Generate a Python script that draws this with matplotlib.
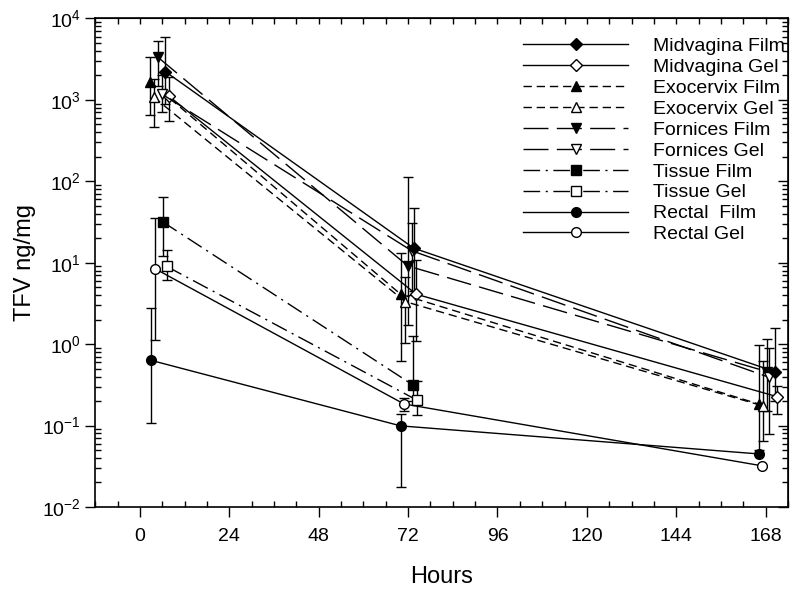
import matplotlib
matplotlib.use("Agg")
import matplotlib.pyplot as plt
from matplotlib.ticker import MultipleLocator, LogLocator, NullFormatter
import numpy as np

plt.rcParams['font.family'] = ['Liberation Sans', 'DejaVu Sans']
plt.rcParams['mathtext.fontset'] = 'custom'
plt.rcParams['mathtext.rm'] = 'Liberation Sans'
plt.rcParams['mathtext.it'] = 'Liberation Sans'
plt.rcParams['axes.unicode_minus'] = False

# ---- data (hours as plotted, TFV ng/mg, lower / upper error-bar ends) ----
mvf_x = [6.8, 73.5, 170.4]
mvf_y = [2230, 15.1, 0.46]
mvf_lo = [900, 4.5, 0.2]
mvf_hi = [5870, 46.7, 1.57]

mvg_x = [7.9, 74.2, 171.1]
mvg_y = [1100, 4.1, 0.226]
mvg_lo = [552, 1.09, 0.14]
mvg_hi = [1900, 10.8, 0.306]

exf_x = [2.7, 70.0, 166.1]
exf_y = [1680, 4.1, 0.184]
exf_lo = [655, 0.62, 0.05]
exf_hi = [3350, 13.3, 0.98]

exg_x = [3.7, 71.2, 167.3]
exg_y = [1080, 3.33, 0.174]
exg_lo = [462, 1.04, 0.065]
exg_hi = [1800, 6.75, 0.62]

fof_x = [4.8, 71.9, 168.3]
fof_y = [3350, 9.14, 0.46]
fof_lo = [1500, 1.72, 0.15]
fof_hi = [5350, 114, 1.15]

fog_x = [5.8, 73.0, 169.0]
fog_y = [1185, 14.0, 0.39]
fog_lo = [700, 4.0, 0.079]
fog_hi = [2000, 31.0, 0.906]

tif_x = [6.1, 73.3]
tif_y = [31.8, 0.315]
tif_lo = [12.0, 0.2]
tif_hi = [64.5, 1.25]

tig_x = [7.2, 74.3]
tig_y = [9.0, 0.206]
tig_lo = [6.2, 0.135]
tig_hi = [14.2, 0.353]

ref_x = [3.1, 70.0, 166.1]
ref_y = [0.63, 0.099, 0.0448]
ref_lo = [0.107, 0.0176, 0.0448]
ref_hi = [2.78, 0.14, 0.0448]

reg_x = [4.0, 70.9, 167.0]
reg_y = [8.46, 0.184, 0.032]
reg_lo = [1.13, 0.15, 0.032]
reg_hi = [35.6, 0.22, 0.032]

labels = ["Midvagina Film", "Midvagina Gel", "Exocervix Film", "Exocervix Gel",
          "Fornices Film", "Fornices Gel", "Tissue Film", "Tissue Gel",
          "Rectal  Film", "Rectal Gel"]

x_ticks = [0, 24, 48, 72, 96, 120, 144, 168]

# ---- styles ----
solid = '-'
short_dash = (0, (6, 3.5))
long_dash = (0, (18, 6))
dash_dot = (0, (12, 4, 1.5, 4))

series = [
    (mvf_x, mvf_y, mvf_lo, mvf_hi, 'D', 'black', solid, 6.5, 4),
    (mvg_x, mvg_y, mvg_lo, mvg_hi, 'D', 'white', solid, 6.5, 3),
    (exf_x, exf_y, exf_lo, exf_hi, '^', 'black', short_dash, 7.5, 3),
    (exg_x, exg_y, exg_lo, exg_hi, '^', 'white', short_dash, 7.5, 3),
    (fof_x, fof_y, fof_lo, fof_hi, 'v', 'black', long_dash, 7.5, 3),
    (fog_x, fog_y, fog_lo, fog_hi, 'v', 'white', long_dash, 7.5, 3),
    (tif_x, tif_y, tif_lo, tif_hi, 's', 'black', dash_dot, 6.5, 3),
    (tig_x, tig_y, tig_lo, tig_hi, 's', 'white', dash_dot, 6.5, 3),
    (ref_x, ref_y, ref_lo, ref_hi, 'o', 'black', solid, 7, 3),
    (reg_x, reg_y, reg_lo, reg_hi, 'o', 'white', solid, 7, 3),
]

fig = plt.figure(figsize=(8.0, 5.95), dpi=100)
ax = fig.add_axes([0.119, 0.148, 0.866, 0.821])

handles = []
for (x, y, lo, hi, mk, fc, ls, ms, z), lab in zip(series, labels):
    y = np.array(y, dtype=float)
    lo = np.array(lo, dtype=float)
    hi = np.array(hi, dtype=float)
    ax.errorbar(x, y, yerr=[y - lo, hi - y], fmt='none', ecolor='black',
                elinewidth=1.0, capsize=3.5, capthick=1.0, zorder=2)
    h, = ax.plot(x, y, color='black', lw=1.0, linestyle=ls, marker=mk,
                 markersize=ms, markerfacecolor=fc, markeredgecolor='black',
                 markeredgewidth=1.0, zorder=z, label=lab)
    handles.append(h)

ax.set_yscale('log')
ax.set_ylim(1e-2, 1e4)
ax.set_xlim(-12, 174)
ax.set_xticks(x_ticks)
ax.xaxis.set_minor_locator(MultipleLocator(6))
ax.yaxis.set_major_locator(LogLocator(base=10, numticks=10))
ax.yaxis.set_minor_locator(LogLocator(base=10, subs=np.arange(2, 10), numticks=20))
ax.yaxis.set_minor_formatter(NullFormatter())

ax.tick_params(axis='both', which='major', direction='out', length=7, width=1.0,
               labelsize=14, top=False, right=False)
ax.tick_params(axis='both', which='minor', direction='in', length=4, width=1.0,
               top=False, right=False)
ax.tick_params(axis='x', which='major', pad=8)

for s in ax.spines.values():
    s.set_linewidth(1.2)

# top / right ticks pointing inward
top = ax.secondary_xaxis('top')
top.set_xticks(x_ticks)
top.xaxis.set_minor_locator(MultipleLocator(6))
top.tick_params(which='both', direction='in', length=4, width=1.0, labeltop=False)
right = ax.secondary_yaxis('right')
right.yaxis.set_major_locator(LogLocator(base=10, numticks=10))
right.yaxis.set_minor_locator(LogLocator(base=10, subs=np.arange(2, 10), numticks=20))
right.tick_params(which='both', direction='in', length=4, width=1.0, labelright=False)
right.tick_params(which='major', length=7)
right.yaxis.set_minor_formatter(NullFormatter())
right.yaxis.set_major_formatter(NullFormatter())

ax.set_xlabel('Hours', fontsize=17, labelpad=15)
ax.set_ylabel('TFV ng/mg', fontsize=17, labelpad=4)

leg = ax.legend(handles=handles, loc='upper right', bbox_to_anchor=(1.013, 0.985),
                frameon=False, fontsize=14, handlelength=5.4,
                handletextpad=1.3, labelspacing=0.17, borderaxespad=0.2)

fig.savefig('out.png', dpi=100)
